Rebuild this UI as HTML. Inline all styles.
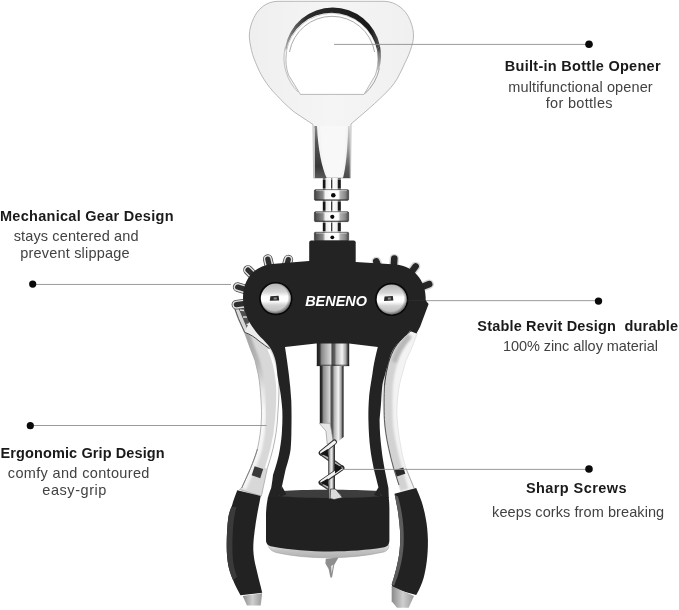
<!DOCTYPE html>
<html><head><meta charset="utf-8"><title>Corkscrew</title>
<style>
html,body{margin:0;padding:0;background:#fff;}
body{width:679px;height:610px;overflow:hidden;position:relative;font-family:"Liberation Sans",sans-serif;}
svg{position:absolute;left:0;top:0;display:block;}
.h{font-family:"Liberation Sans",sans-serif;font-weight:bold;font-size:14.5px;fill:#1a1a1a;}
.s{font-family:"Liberation Sans",sans-serif;font-weight:normal;font-size:14.5px;fill:#424242;}
</style></head><body>
<svg width="679" height="610" viewBox="0 0 679 610">
<defs>
<linearGradient id="gHead" x1="0" y1="0" x2="1" y2="0">
 <stop offset="0" stop-color="#efefef"/><stop offset="0.5" stop-color="#f5f5f5"/><stop offset="1" stop-color="#f0f0f0"/>
</linearGradient>
<linearGradient id="gCres" x1="0" y1="0" x2="1" y2="0">
 <stop offset="0" stop-color="#aaa"/><stop offset="0.08" stop-color="#6a6a6a"/><stop offset="0.22" stop-color="#2c2c2c"/><stop offset="0.9" stop-color="#181818"/><stop offset="1" stop-color="#555"/>
</linearGradient>
<linearGradient id="gRingW" x1="0" y1="0" x2="1" y2="0">
 <stop offset="0" stop-color="#3c3c3c"/><stop offset="0.06" stop-color="#555"/><stop offset="0.25" stop-color="#8a8a8a"/><stop offset="0.32" stop-color="#f2f2f2"/><stop offset="0.5" stop-color="#ffffff"/><stop offset="0.7" stop-color="#ffffff"/><stop offset="0.76" stop-color="#b0b0b0"/><stop offset="0.9" stop-color="#8a8a8a"/><stop offset="1" stop-color="#4a4a4a"/>
</linearGradient>
<linearGradient id="gRingN" x1="0" y1="0" x2="1" y2="0">
 <stop offset="0" stop-color="#111"/><stop offset="0.13" stop-color="#1c1c1c"/><stop offset="0.17" stop-color="#e8e8e8"/><stop offset="0.44" stop-color="#fff"/><stop offset="0.47" stop-color="#3a3a3a"/><stop offset="0.52" stop-color="#3a3a3a"/><stop offset="0.55" stop-color="#fff"/><stop offset="0.8" stop-color="#f0f0f0"/><stop offset="0.86" stop-color="#222"/><stop offset="1" stop-color="#111"/>
</linearGradient>
<linearGradient id="gRod" x1="0" y1="0" x2="1" y2="0">
 <stop offset="0" stop-color="#1a1a1a"/><stop offset="0.09" stop-color="#333"/><stop offset="0.15" stop-color="#8a8a8a"/><stop offset="0.3" stop-color="#b4b4b4"/><stop offset="0.43" stop-color="#d8d8d8"/><stop offset="0.47" stop-color="#4a4a4a"/><stop offset="0.55" stop-color="#606060"/><stop offset="0.6" stop-color="#b0b0b0"/><stop offset="0.78" stop-color="#f4f4f4"/><stop offset="0.9" stop-color="#a0a0a0"/><stop offset="0.96" stop-color="#3a3a3a"/><stop offset="1" stop-color="#1a1a1a"/>
</linearGradient>
<radialGradient id="gRivet" cx="0.42" cy="0.36" r="0.68">
 <stop offset="0" stop-color="#f4f4f4"/><stop offset="0.45" stop-color="#dcdcdc"/><stop offset="0.75" stop-color="#b2b2b2"/><stop offset="1" stop-color="#5c5c5c"/>
</radialGradient>
<linearGradient id="gLevL" x1="0" y1="0" x2="1" y2="0">
 <stop offset="0" stop-color="#f3f3f3"/><stop offset="0.3" stop-color="#ececec"/><stop offset="0.45" stop-color="#d4d4d4"/><stop offset="1" stop-color="#dcdcdc"/>
</linearGradient>
<linearGradient id="gLevR" x1="0" y1="0" x2="1" y2="0">
 <stop offset="0" stop-color="#cfcfcf"/><stop offset="0.3" stop-color="#e6e6e6"/><stop offset="1" stop-color="#efefef"/>
</linearGradient>
<linearGradient id="gBase" x1="0" y1="0" x2="0" y2="1">
 <stop offset="0" stop-color="#f2f2f2"/><stop offset="0.5" stop-color="#c4c4c4"/><stop offset="1" stop-color="#b0b0b0"/>
</linearGradient>
<linearGradient id="gTip" x1="0" y1="0" x2="1" y2="0">
 <stop offset="0" stop-color="#8a8a8a"/><stop offset="0.5" stop-color="#cfcfcf"/><stop offset="1" stop-color="#9a9a9a"/>
</linearGradient>
<linearGradient id="gNeck" x1="0" y1="0" x2="0" y2="1">
 <stop offset="0" stop-color="#8a8a8a"/><stop offset="0.3" stop-color="#555"/><stop offset="0.78" stop-color="#383838"/><stop offset="1" stop-color="#5a5a5a"/>
</linearGradient>
<linearGradient id="gNeckR" x1="0" y1="0" x2="0" y2="1">
 <stop offset="0" stop-color="#cfcfcf"/><stop offset="0.45" stop-color="#9a9a9a"/><stop offset="0.8" stop-color="#5c5c5c"/><stop offset="1" stop-color="#4a4a4a"/>
</linearGradient>
<linearGradient id="gStem" x1="0" y1="0" x2="1" y2="0">
 <stop offset="0" stop-color="#222"/><stop offset="0.25" stop-color="#c4c4c4"/><stop offset="0.55" stop-color="#f0f0f0"/><stop offset="0.8" stop-color="#666"/><stop offset="1" stop-color="#1c1c1c"/>
</linearGradient>
<filter id="fBlur" x="-20%" y="-20%" width="140%" height="140%"><feGaussianBlur stdDeviation="1.3"/></filter>
<linearGradient id="gRivV" x1="0" y1="0" x2="0" y2="1">
 <stop offset="0" stop-color="#b4b4b4"/><stop offset="0.28" stop-color="#d6d6d6"/><stop offset="0.42" stop-color="#fdfdfd"/><stop offset="0.58" stop-color="#ffffff"/><stop offset="0.72" stop-color="#d2d2d2"/><stop offset="1" stop-color="#b8b8b8"/>
</linearGradient>
<radialGradient id="gRivE" cx="0.46" cy="0.46" r="0.56">
 <stop offset="0" stop-color="#000" stop-opacity="0"/><stop offset="0.78" stop-color="#000" stop-opacity="0"/><stop offset="1" stop-color="#000" stop-opacity="0.5"/>
</radialGradient>
<linearGradient id="gTail" x1="0" y1="0" x2="0" y2="1">
 <stop offset="0" stop-color="#222"/><stop offset="0.3" stop-color="#777"/><stop offset="1" stop-color="#c4c4c4"/>
</linearGradient>
</defs>

<!-- HEAD -->
<g id="head">
 <path fill="url(#gHead)" stroke="#a8a8a8" stroke-width="0.8" fill-rule="evenodd"
  d="M278 1.3 L384 1.3 C396 1.3 406 10 410 20 C412.5 26 413.6 31 413.5 36 C413.4 40 412.8 43 411.6 46.4 C410 52 408 57 405 62.8 C402.5 68 400 74 396.9 79.2 C393 85.5 388.5 90.5 383 95.6 C377.5 101 371.5 106.5 365 112 L351 124 L350.5 178 L313.6 178 L313 124.5 L294.2 112 C287.5 106.5 282 101 277 95.6 C271.5 90 267.5 85 263.9 79.2 C260.5 74 258 68.5 255.7 62.8 C253.3 57 251.6 52 250.7 46.4 C250 43 249.4 40 249.3 36 C249.3 30 251 24 253.5 18.5 C257.5 9.5 266 1.3 278 1.3 Z
     M300.4 94.4 L364 94.4 L375.4 75 A46 46 0 1 0 288.5 75 Z"/>
 <!-- bevel ring -->
 <path fill="url(#gCres)" d="M285.13 47.41 A48.3 48.3 0 0 1 332.7 7.5 A48.3 48.3 0 0 1 379.94 45.76 L376.99 49.55 A46.4 46.4 0 0 0 331.6 12.8 A46.4 46.4 0 0 0 285.9 51.14 Z"/>
 <path fill="url(#gTail)" d="M379.94 45.76 A48.3 48.3 0 0 1 379.35 68.3 L376.42 71.2 A46.4 46.4 0 0 0 376.99 49.55 Z"/>
 <path fill="none" stroke="#9a9a9a" stroke-width="0.9" d="M379.4 68.3 A48.3 48.3 0 0 1 365 93.6"/>
 <path fill="none" stroke="#b4b4b4" stroke-width="0.8" d="M285.1 47.4 A48.3 48.3 0 0 0 298 92"/>
 <path fill="none" stroke="#8a8a8a" stroke-width="0.9" d="M289.5 52 A43.2 43.2 0 0 1 332 16.3 A43.2 43.2 0 0 1 374.6 52" opacity="0.8"/>
 <path fill="none" stroke="#fff" stroke-width="1.6" d="M287.6 52 A45 45 0 0 1 332 14.5 A45 45 0 0 1 376.4 52" opacity="0.9"/>
 <!-- neck shading -->
 <path fill="url(#gNeck)" d="M314.4 126 L317 126 C318 150 322 168 326.7 178 L314.4 178 Z"/>
 <path fill="#cfcfcf" d="M313.6 128 L314.8 128 L314.8 178 L313.6 178 Z"/>
 <path fill="url(#gNeckR)" d="M349.8 126 L348.2 126 C347.6 150 345.8 168 343 178 L349.8 178 Z"/>
 <path fill="#fafafa" opacity="0.7" d="M320 126 L346 126 C345.5 150 344 168 341.5 177 L328 177 C324 168 321 150 320 126 Z"/>
</g>

<!-- THREAD -->
<g id="thread">
 <rect x="322.8" y="178" width="18" height="62" fill="url(#gRingN)"/>
 <path stroke="#fff" stroke-width="0.9" opacity="0.85" d="M322 179 H342 M322 189 H342 M322 201 H342 M322 211.2 H342 M322 222.2 H342 M322 231.7 H342"/>
 <g stroke="#3a3a3a" stroke-width="0.7">
 <rect x="314.4" y="189.7" width="34.2" height="10.6" rx="1" fill="url(#gRingW)"/>
 <rect x="314.4" y="211.8" width="34.2" height="9.8" rx="1" fill="url(#gRingW)"/>
 <rect x="314.4" y="232.3" width="34.2" height="8.6" rx="1" fill="url(#gRingW)"/>
 </g>
 <g stroke="#fff" stroke-width="0.8" opacity="0.55">
  <line x1="316" y1="190.6" x2="347" y2="190.6"/><line x1="316" y1="212.7" x2="347" y2="212.7"/><line x1="316" y1="233.2" x2="347" y2="233.2"/>
 </g>
 <g stroke="#222" stroke-width="1" opacity="0.6">
  <line x1="315" y1="199.8" x2="348" y2="199.8"/><line x1="315" y1="221.1" x2="348" y2="221.1"/>
 </g>
 <circle cx="333.3" cy="195.3" r="2.3" fill="#0c0c0c"/>
 <circle cx="332.3" cy="216.8" r="2.1" fill="#0c0c0c"/>
 <circle cx="332.3" cy="237.3" r="1.9" fill="#0c0c0c"/>
</g>

<!-- LEVERS (chrome) -->
<g id="levers">
 <clipPath id="cLevL"><path d="M232.9 304 L238 318.6 L244.7 333 L249.9 347.4 L255 360.5 L258.4 375 C259.6 382 260.4 390 261 400 C261.6 408 261.6 414 261.4 419 C261 430 259.5 440 257.4 449 C255.5 456 253 462 250.5 468.4 L241.7 488 L239.5 489.5 L261.4 496 L267.3 468.4 C269.5 462 271.5 455 273 448.8 C275.5 438 277 428 277.5 419 C278 410 279 400 279 390 L279 375 L277 360 L272 346 L262 336 L250 320 L244 306 Z"/></clipPath>
 <clipPath id="cLevR"><path d="M417.2 333.7 L412 347.4 L406 360.5 L402 375 C400.5 380 399.8 383 399.5 385 C398 392 397.2 400 397 408 C396.8 414 397 418 397.2 420 C398 430 399.5 440 401.2 448.8 C402.5 456 404 462 406 468.4 L414 488 L416 488.5 L402 495 L393.3 468.4 C391.5 462 389.8 455 388.4 448.8 C386 438 384.5 428 384 419.3 C383.6 410 382 395 382 385 L383 375 L387 360.5 L393 347.4 L404 333 L413.3 328.5 Z"/></clipPath>
 <linearGradient id="gLevEdge" gradientUnits="userSpaceOnUse" x1="0" y1="333" x2="0" y2="490">
  <stop offset="0" stop-color="#a4a4a4"/><stop offset="0.2" stop-color="#b8b8b8"/><stop offset="0.36" stop-color="#e6e6e6"/><stop offset="0.5" stop-color="#f8f8f8"/><stop offset="1" stop-color="#f4f4f4"/>
 </linearGradient>
 <path fill="#d8d8d8" d="M232.9 304 L238 318.6 L244.7 333 L249.9 347.4 L255 360.5 L258.4 375 C259.6 382 260.4 390 261 400 C261.6 408 261.6 414 261.4 419 C261 430 259.5 440 257.4 449 C255.5 456 253 462 250.5 468.4 L241.7 488 L239.5 489.5 L261.4 496 L267.3 468.4 C269.5 462 271.5 455 273 448.8 C275.5 438 277 428 277.5 419 C278 410 279 400 279 390 L279 375 L277 360 L272 346 L262 336 L250 320 L244 306 Z"/>
 <g clip-path="url(#cLevL)" fill="none">
  <path stroke="url(#gLevEdge)" stroke-width="9" filter="url(#fBlur)" d="M244.7 333 L249.9 347.4 L255 360.5 L258.4 375 C259.6 382 260.4 390 261 400 C261.6 408 261.6 414 261.4 419 C261 430 259.5 440 257.4 449 C255.5 456 253 462 250.5 468.4 L241.7 488"/>
  <path stroke="#fbfbfb" stroke-width="2.6" d="M268.5 349 C273 358 276 370 277.2 384 C277.8 395 277.4 408 276.4 419 C275.6 429 274 439 271.6 448.8 C270 455 268 462 266 468.4"/>
  <path fill="#505050" stroke="none" d="M237.5 306 L244 305 L256 329 L249 333 Z"/>
  <path stroke="#d8d8d8" stroke-width="1.3" d="M240 310 L244 310.5 M243 317 L247.5 317 M246.5 324.5 L251 324"/>
  <path fill="#ededed" stroke="none" d="M244.7 332.4 C250 334 255 337.5 259 341 C263 344 266.5 346.5 269.6 348.7 L262 336 L250 320 Z"/>
 </g>
 <path fill="none" stroke="#a8a8a8" stroke-width="0.8" d="M232.9 304 L238 318.6 L244.7 333 L249.9 347.4 L255 360.5 L258.4 375 C259.6 382 260.4 390 261 400 C261.6 408 261.6 414 261.4 419 C261 430 259.5 440 257.4 449 C255.5 456 253 462 250.5 468.4 L241.7 488 L239.5 489.5 L261.4 496 L267.3 468.4 C269.5 462 271.5 455 273 448.8 C275.5 438 277 428 277.5 419 C278 410 279 400 279 390 L279 375 L277 360 L272 346 L262 336 L250 320 L244 306 Z"/>
 <path fill="none" stroke="#3a3a3a" stroke-width="0.9" d="M244.7 332.4 C250 334 255 337.5 259 341 C263 344 266.5 346.5 269.6 348.7"/>
 <path fill="none" stroke="#555" stroke-width="1" d="M233.5 305 L238.5 318.6 L244.7 332.4"/>
 <path fill="none" stroke="#777" stroke-width="0.9" d="M257.4 449 C255.5 456 253 462 250.5 468.4 L241.7 488"/>
 <rect x="253" y="467.5" width="9" height="9.5" fill="#3a3a3a" transform="rotate(18 257.5 472)"/>
 <path fill="#f3f3f3" d="M417.2 333.7 L412 347.4 L406 360.5 L402 375 C400.5 380 399.8 383 399.5 385 C398 392 397.2 400 397 408 C396.8 414 397 418 397.2 420 C398 430 399.5 440 401.2 448.8 C402.5 456 404 462 406 468.4 L414 488 L416 488.5 L402 495 L393.3 468.4 C391.5 462 389.8 455 388.4 448.8 C386 438 384.5 428 384 419.3 C383.6 410 382 395 382 385 L383 375 L387 360.5 L393 347.4 L404 333 L413.3 328.5 Z"/>
 <g clip-path="url(#cLevR)" fill="none">
  <path stroke="#d2d2d2" stroke-width="9" filter="url(#fBlur)" d="M409 334 C402 342 396 352 393 362 C390.5 370 389 378 388.3 385 C387.8 395 387.8 410 388.2 419.3 C388.7 428 390.2 438 392.6 448.8 C394 455 395.7 462 397.5 468.4 L404 490"/>
  <path stroke="#b8b8b8" stroke-width="5" filter="url(#fBlur)" d="M409 336 C402 344 396.5 353 394 362"/>
 </g>
 <path fill="none" stroke="#dcdcdc" stroke-width="0.7" d="M417.2 333.7 L412 347.4 L406 360.5 L402 375 C400.5 380 399.8 383 399.5 385 C398 392 397.2 400 397 408 C396.8 414 397 418 397.2 420 C398 430 399.5 440 401.2 448.8 C402.5 456 404 462 406 468.4 L414 488 L416 488.5 L402 495 L393.3 468.4 C391.5 462 389.8 455 388.4 448.8 C386 438 384.5 428 384 419.3 C383.6 410 382 395 382 385 L383 375 L387 360.5 L393 347.4 L404 333 L413.3 328.5 Z"/>
 <path fill="none" stroke="#333" stroke-width="1" d="M413 329.5 C405 335 398 342 393.5 350 C390.5 356 388.5 362 387.3 368 C386 374 385 380 384.6 385"/>
 <path fill="none" stroke="#4a4a4a" stroke-width="0.9" d="M384.6 385 C384 395 384 410 384.4 419.3 C384.9 428 386.4 438 388.8 448.8 C390.2 455 391.9 462 393.7 468.4 L399 485"/>
 <path fill="none" stroke="#9a9a9a" stroke-width="0.8" d="M406 468.4 L414 488"/>
 <rect x="395.5" y="468.8" width="9" height="6.5" fill="#2a2a2a" transform="rotate(-18 400 472)"/>
</g>

<!-- GEAR TEETH -->
<g id="teethL" fill="none" stroke-linecap="round">
 <path stroke="#4a4a4a" stroke-width="9.6" d="M285.3 270.2L288.3 259.6M270.3 269.8L267.8 259.1M255.8 277.8L248.0 270.0M248.3 290.3L237.7 287.1M247.3 303.2L236.4 304.7"/>
 <path stroke="#e0e0e0" stroke-width="8" d="M285.3 270.2L288.3 259.6M270.3 269.8L267.8 259.1M255.8 277.8L248.0 270.0M248.3 290.3L237.7 287.1M247.3 303.2L236.4 304.7"/>
 <path stroke="#2e2e2e" stroke-width="5.2" d="M285.3 270.2L288.3 259.6M270.3 269.8L267.8 259.1M255.8 277.8L248.0 270.0M248.3 290.3L237.7 287.1M247.3 303.2L236.4 304.7"/>
</g>
<g id="teethR" fill="none" stroke-linecap="round">
 <path stroke="#d6d6d6" stroke-width="9.4" d="M380.3 271.2L376.3 261.4M393.6 269.1L394.3 258.6M409.3 274.9L415.6 266.4M419.4 288.0L429.2 284.2"/>
 <path stroke="#262626" stroke-width="6.6" d="M380.3 271.2L376.3 261.4M393.6 269.1L394.3 258.6M409.3 274.9L415.6 266.4M419.4 288.0L429.2 284.2"/>
</g>

<!-- CENTRE ROD -->
<g id="rod">
 <rect x="316.8" y="340" width="32.4" height="26" fill="url(#gRod)"/>
 <rect x="316.8" y="364.6" width="32.4" height="1.6" fill="#222" opacity="0.55"/>
 <path fill="url(#gRod)" d="M319.8 366 L343.6 366 L343.6 437 L336.5 443 L330 443 L330 423.2 L319.8 423.2 Z"/>
</g>

<!-- BODY -->
<g id="body">
 <rect x="309.2" y="240.5" width="46.5" height="26" rx="2" fill="#232323"/>
 <path fill="#232323" d="M424.6 299 L428.6 304 L420.2 326.5 L416.5 333.5 L410 331 L421 314 Z"/>
 <path fill="#232323" fill-rule="evenodd"
  d="M272 264 L309 261 L356 262 L396 264.5 C414 266 425.7 281 425.7 298 C425.7 304 424.5 310 422.4 314.7 C420 320 417 324 413.3 327.8 C409 332 405 336 401.5 339.6 C398 343 395.5 346 393.6 348.7 C391.5 352 390 356 389 360.5 C387.5 366 386 370 385 375 C384 378 383 381 382.5 384 C381.8 390 381.4 396 381.2 401 C380.8 408 380 414 379.6 419.3 C379.5 430 380.5 440 381.5 448.8 C382.3 456 383.3 462 384.5 468.4 L388.4 488 L388.8 498 L267.8 498 C268.8 494 270 491 271.2 488 C272 483 272.6 479 273 475 C276 466 278.5 458 279.8 449.5 C281 442 281.8 436 282 430 C282.5 423 282.5 416 282.3 410 C281.8 403 281 396 280 390 C279.2 385 278 380 277.4 375 C277 370 276.5 365 275.5 360.5 C274.5 356 272.5 351 270 347.4 C267.5 344 264 340.5 260.4 337 C256 332 252 327 248.6 321 C245.5 314 243 306 243 298 C243 279 254 266 272 264 Z
     M285 347 L316 343.5 L349 343.5 L377.8 347 C375.5 356 373.5 365 372.4 374 C370.8 384 369.2 392 368.8 401 C368.4 408 368.3 414 368.4 419.3 C368.6 430 369.2 440 370.3 448.8 C371.2 456 372.4 462 373.7 468.4 L378.6 488 L380 496 L281 496 L281.8 487 L285.7 469 C288 462 289.8 455 290.6 449.5 C291.2 442 291.4 436 291.4 430 C291.6 420 291.6 410 291.3 401 C290.8 392 289.9 383 288.8 374 C287.7 365 286.4 356 285 347 Z"/>
 <!-- rivets -->
 <circle cx="275.8" cy="298.6" r="16.7" fill="#080808"/>
 <circle cx="275.8" cy="298.6" r="15" fill="url(#gRivV)"/>
 <circle cx="275.8" cy="298.6" r="15" fill="url(#gRivE)"/>
 <path d="M270.4 296.2 L278.6 295.8 L279.2 300.4 L269.8 300.8 Z" fill="#2a2a2a"/>
 <path d="M273.6 297.4 L276.6 297.2 L276.8 299.4 L273.6 299.6 Z" fill="#8a8a8a"/>
 <circle cx="391.7" cy="299.4" r="16.7" fill="#080808"/>
 <circle cx="391.7" cy="299.4" r="15" fill="url(#gRivV)"/>
 <circle cx="391.7" cy="299.4" r="15" fill="url(#gRivE)"/>
 <path d="M384.6 296.4 L392.8 296 L393.4 300.6 L384 301 Z" fill="#2a2a2a"/>
 <path d="M387.8 297.6 L390.8 297.4 L391 299.6 L387.8 299.8 Z" fill="#8a8a8a"/>
 <text opacity="0.999" x="305.2" y="305.8" textLength="61.8" lengthAdjust="spacingAndGlyphs" style='font-family:"Liberation Sans",sans-serif;font-weight:bold;font-style:italic;font-size:14.5px;fill:#fff'>BENENO</text>
</g>

<!-- BOTTOM RING -->
<g id="ring">
 <path fill="url(#gBase)" stroke="#9a9a9a" stroke-width="0.5" d="M268 543 L388.8 545 C389 549 387 551.2 383 552.2 C350 559.6 306 559.6 276 552.5 C271 551 268 548 268 543 Z"/>
 <path fill="#212121" d="M268 497 L388.6 497 C389.2 501 389.4 505 389.4 510 L389.4 540 C389.4 545 387 547 383 547.6 C350 553 306 553 272 546.5 C268 545.6 266 544 266 540 L266 514 C266.2 508 267 502 268 497 Z"/>
 <path fill="#3d3d3d" d="M283 491 C300 489.3 355 489.3 379 491 L382 496 C360 498.6 300 498.6 279 496 Z"/>
 <path fill="#232323" d="M281.8 486 L286.5 494.5 L279.5 497 Z M378.6 487 L374 495 L381 497 Z"/>
 <!-- worm tip -->
 <path fill="#8e8e8e" d="M325.8 558.8 L338.5 557.6 L334.2 565 L332 577.6 L330.4 577.6 L328.6 569 L325.4 563.5 Z"/>
 <path fill="#e4e4e4" d="M331 566 L333.4 564.5 L331.6 573.5 Z"/>
</g>

<!-- WORM -->
<g id="worm" fill="none" stroke-linecap="round" stroke-linejoin="round">
 <path fill="#e6e6e6" stroke="#8a8a8a" stroke-width="0.6" d="M319.8 423.4 L330 423.4 L331.5 431 L333.5 444 L327.2 444 L326 431.5 Z"/>
 <path stroke="#3c3c3c" stroke-width="4.6" d="M321.5 453.4 L341.5 467.6 M321.5 483 L340.5 495.6"/>
 <path stroke="#b4b4b4" stroke-width="2.2" d="M322.5 454 L340.5 466.8 M322.5 483.6 L339.5 495"/>
 <rect x="328.2" y="444" width="6.8" height="54.5" fill="url(#gStem)" stroke="none"/>
 <path stroke="#2c2c2c" stroke-width="5" d="M334.5 442 L321 453 M342 468 L321 482.6"/>
 <path stroke="#f2f2f2" stroke-width="3.2" d="M334.4 442.2 L321.6 452.6 M341.2 468.4 L321.8 481.8"/>
 <path fill="#151515" stroke="none" d="M320.4 453.4 L327.8 449 L328.2 457 Z M342.6 468 L335 463.4 L335 473.6 Z M320.4 482.8 L327.8 478.6 L328.2 486.6 Z"/>
 <path fill="#dcdcdc" stroke="#333" stroke-width="0.7" d="M331 489 L335.5 489 L342.5 497.6 L334 499.6 L330.5 498.5 Z"/>
</g>

<!-- GRIPS -->
<g id="grips">
 <path fill="#222" d="M237.3 490.2 L260.7 496 C259.8 501 258.8 506 257.6 512 C256.3 519 255.2 526 254.4 533 C253.6 539 253.2 545 253.3 550 C253.6 557 254.8 563 256.5 569.4 C257.8 575 259.2 581 260.7 586.4 L262.2 592.8 L240.5 595.2 C237.5 590 235 585 233 580 C230.8 575 229.2 570 228.2 565 C227 558 226.6 551 226.7 543.8 C226.8 535 227.2 526 228.2 518.3 C229 513 230.3 509 232 505.5 C233.5 500 235.3 495 237.3 490.2 Z"/>
 <path fill="#3a3a3a" d="M231.5 507 C229.5 512 228.6 515 228.2 518.3 C227.2 526 226.8 535 226.7 543.8 C226.6 551 227 558 228.2 565 C229.2 570 230.8 575 233 580 L237 577 C234.5 570 233 563 232.6 556 C232.2 546 232.4 534 233.4 524 C234 518 235 512 236.5 507 Z"/>
 <path fill="url(#gTip)" d="M242.7 596 L262.2 593.2 L260.7 605.5 L247 605.5 Z"/>
 <path fill="#222" d="M394.5 493.8 L416.2 488 C418.2 492.5 420 497 421.5 501.3 C423.3 507 424.7 512.5 425.7 518.3 C427 525 427.7 532 427.9 539.6 C428 547 427.7 554 426.8 560.9 C426 567 425 572.5 423.6 577.9 C421.8 584 419.3 589.5 416.2 594.9 L392.8 588.5 L391.7 584.3 C393.3 579.5 394.8 574.5 396 569.4 C397.6 563 399 556.5 399.6 550.2 C400.2 544.5 400.4 539 400.2 533.2 C399.8 526 399 519 398 512 C397 506 395.8 500 394.5 493.8 Z"/>
 <path fill="#5c5c5c" d="M394.8 495 C396 501 397.2 506.5 398 512 C399 519 399.8 526 400.2 533.2 C400.4 539 400.2 544.5 399.6 550.2 C399 556.5 397.6 563 396 569.4 C394.8 574.5 393.3 579.5 391.7 584.3 L394 586 C396.5 580 398.5 574 400 568 C402 560 403.2 552 403.6 545 C404 536 403.6 527 402.6 519 C401.6 511 400 503 398 496.5 Z"/>
 <path fill="url(#gTip)" d="M391.7 586 L414 596 L408.7 607.7 L397 607.7 L391.7 601.3 Z"/>
</g>

<!-- callout lines -->
<g stroke="#8e8e8e" stroke-width="0.9" fill="none">
 <line x1="334" y1="44.4" x2="589" y2="44.4"/>
 <line x1="32" y1="284.45" x2="231" y2="284.45"/>
 <line x1="426" y1="300.65" x2="599" y2="300.65"/>
 <line x1="407" y1="300.65" x2="426" y2="300.65" stroke="#2e2e2e"/>
 <line x1="30" y1="425.5" x2="266.5" y2="425.5"/>
 <line x1="342" y1="469.4" x2="589" y2="469.4"/>
</g>
<g fill="#0a0a0a">
 <circle cx="589" cy="44.3" r="3.8"/>
 <circle cx="32.7" cy="284.1" r="3.6"/>
 <circle cx="598.5" cy="301.1" r="3.7"/>
 <circle cx="30.3" cy="425.7" r="3.6"/>
 <circle cx="589" cy="469" r="3.8"/>
</g>

<g id="labels" opacity="0.999">
<!-- TEXT -->
<text class="h" x="504.8" y="71.3" textLength="155.8">Built-in Bottle Opener</text>
<text class="s" x="508.3" y="92.4" textLength="144.4">multifunctional opener</text>
<text class="s" x="545.8" y="107.9" textLength="66.7">for bottles</text>

<text class="h" x="0.0" y="221" textLength="173.5">Mechanical Gear Design</text>
<text class="s" x="13.7" y="241" textLength="124.8">stays centered and</text>
<text class="s" x="20.2" y="258.3" textLength="109.4">prevent slippage</text>

<text class="h" x="477.3" y="330.8" textLength="200.7" xml:space="preserve" style="white-space:pre">Stable Revit Design  durable</text>
<text class="s" x="502.9" y="351.4" textLength="155.1">100% zinc alloy material</text>

<text class="h" x="0.5" y="458.2" textLength="164.2">Ergonomic Grip Design</text>
<text class="s" x="7.8" y="477.5" textLength="141.6">comfy and contoured</text>
<text class="s" x="42.3" y="494.8" textLength="64.1">easy-grip</text>

<text class="h" x="525.9" y="492.9" textLength="100.7">Sharp Screws</text>
<text class="s" x="492.1" y="516.8" textLength="172.1">keeps corks from breaking</text>
</g>
</svg>
</body></html>
